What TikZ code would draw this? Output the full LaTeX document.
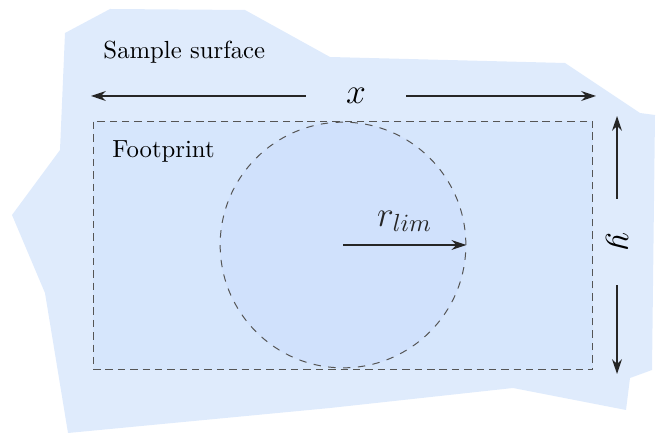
\documentclass[tikz,border=0pt]{standalone}
\usetikzlibrary{arrows.meta}

\definecolor{surfblue}{RGB}{223,235,252}
\definecolor{printblue}{RGB}{214,230,252}
\definecolor{spotblue}{RGB}{208,225,252}
\definecolor{edgegray}{RGB}{85,85,85}

\begin{document}
\begin{tikzpicture}[
    x=0.0142cm, y=-0.0142cm,
    surface/.style={fill=surfblue, draw=none},
    footprint/.style={rectangle, draw=edgegray, densely dashed, fill=printblue,
        minimum width=7.1cm, minimum height=3.536cm, inner sep=0pt},
    spot/.style={circle, draw=edgegray, dashed, fill=spotblue,
        minimum size=3.49cm, inner sep=0pt},
    dimline/.style={-{Stealth[length=6pt, width=4pt]}, semithick, black!85},
    label/.style={font=\normalsize, anchor=west, inner sep=0pt},
    dimlabel/.style={font=\Large, inner sep=0pt}
]
    \useasboundingbox (0,0) rectangle (657,434);
    % sample surface
    \fill[surface] (65,33) -- (110,9) -- (245,10) -- (330,57) -- (565,63)
        -- (640,113) -- (655,115) -- (652,370) -- (630,378) -- (626,410)
        -- (513,388) -- (330,408) -- (68,433) -- (45,293) -- (12,215)
        -- (60,150) -- cycle;
    \node[label] (surf) at (103,52) {Sample surface};

    % footprint and spot
    \node[footprint] (fp) at (343,245.5) {};
    \node[label] (fptxt) at (112,151) {Footprint};
    \node[spot] (circ) at (343,245) {};
    \draw[dimline] (circ.center) -- (circ.east)
        node[midway, above=5pt, dimlabel] (rlab) {$r_{lim}$};

    % width x
    \coordinate (xl) at (91,96);
    \coordinate (xr) at (596,96);
    \node[dimlabel, minimum width=1.41cm] (xlab) at (356,96) {$x$};
    \draw[dimline] (xlab.west) -- (xl);
    \draw[dimline] (xlab.east) -- (xr);

    % height y
    \coordinate (yt) at (617,116);
    \coordinate (yb) at (617,374);
    \node[dimlabel, rotate=-90, minimum width=1.21cm] (ylab) at (617,242) {$y$};
    \draw[dimline] (ylab.west) -- (yt);
    \draw[dimline] (ylab.east) -- (yb);
\end{tikzpicture}
\end{document}
